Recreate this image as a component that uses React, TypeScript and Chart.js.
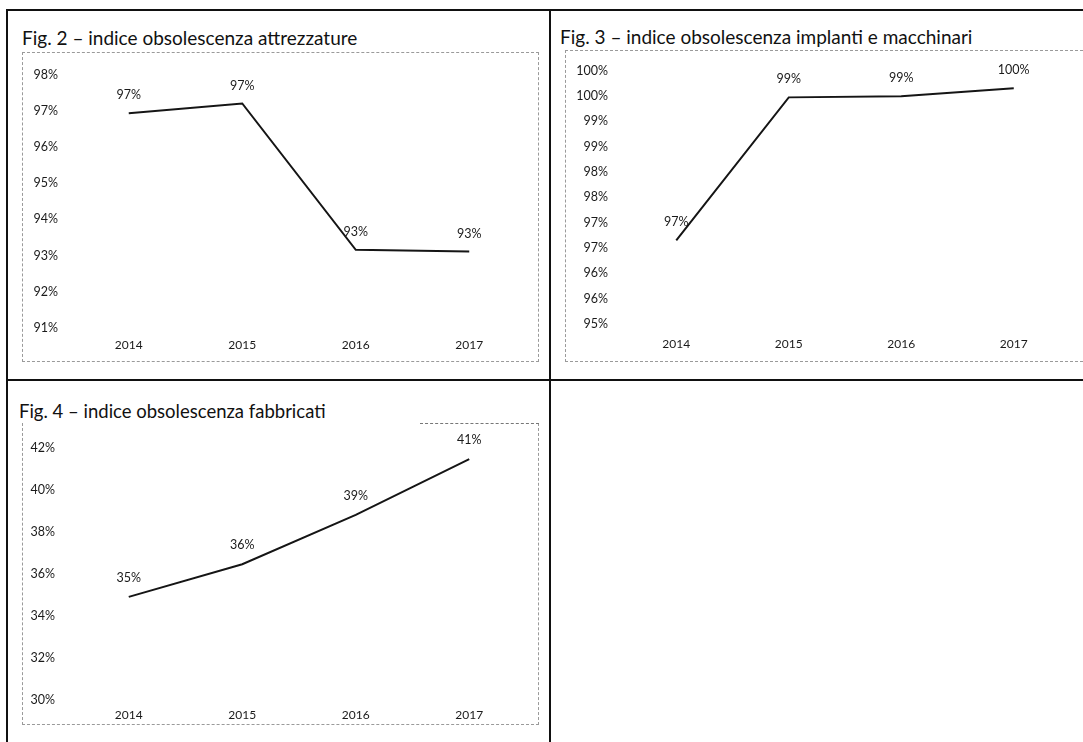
import React, { useEffect, useRef } from "react";
import { Chart, registerables } from "chart.js";

Chart.register(...registerables);

// ---- data ----
const years = ["2014", "2015", "2016", "2017"];
const attrezzature = [96.93, 97.2, 93.16, 93.11];
const impianti = [96.65, 99.47, 99.49, 99.65];
const fabbricati = [34.9, 36.45, 38.8, 41.45];

const fig2Ticks = { min: 91, max: 98, step: 1 };
const fig3Ticks = { min: 95, max: 100, step: 0.5 };
const fig4Ticks = { min: 30, max: 42, step: 2 };

const titles = [
  "Fig. 2 \u2013 indice obsolescenza attrezzature",
  "Fig. 3 \u2013 indice obsolescenza implanti e macchinari",
  "Fig. 4 \u2013 indice obsolescenza fabbricati",
];

const FONT = "Lato, 'Open Sans', sans-serif";

const pctLabels = {
  id: "pctLabels",
  afterDatasetsDraw(chart: any, _args: any, opts: any) {
    const ctx = chart.ctx;
    const meta = chart.getDatasetMeta(0);
    const ds = chart.data.datasets[0];
    ctx.save();
    ctx.font = "12.5px " + FONT;
    ctx.fillStyle = "#1a1a1a";
    ctx.textAlign = "center";
    ctx.textBaseline = "middle";
    meta.data.forEach((pt: any, i: number) => {
      const v = ds.data[i] as number;
      ctx.fillText(Math.round(v) + "%", pt.x, pt.y - (opts.offset || 18));
    });
    ctx.restore();
  },
};

type FigProps = {
  values: number[];
  ticks: { min: number; max: number; step: number };
  left: number;
  top: number;
  width: number;
  height: number;
  yAxisWidth: number;
  yPad: number;
  padTop: number;
  padRight: number;
  xAxisHeight: number;
  xPad: number;
  labelOffset: number;
  border: React.CSSProperties;
};

function LineFig(p: FigProps) {
  const ref = useRef<HTMLCanvasElement | null>(null);
  useEffect(() => {
    if (!ref.current) return;
    const yFont = { family: FONT, size: 12.5 };
    const xFont = { family: FONT, size: 12 };
    const chart = new Chart(ref.current, {
      type: "line",
      data: {
        labels: years,
        datasets: [
          {
            data: p.values,
            borderColor: "#151515",
            borderWidth: 2,
            pointRadius: 0,
            fill: false,
            tension: 0,
          },
        ],
      },
      options: {
        animation: false,
        responsive: false,
        maintainAspectRatio: false,
        layout: { padding: { top: p.padTop, right: p.padRight, left: 0, bottom: 0 } },
        plugins: {
          legend: { display: false },
          tooltip: { enabled: false },
          pctLabels: { offset: p.labelOffset },
        } as any,
        scales: {
          x: {
            type: "category",
            offset: true,
            grid: { display: false, drawTicks: false },
            border: { display: false },
            ticks: { padding: p.xPad, font: xFont, color: "#1a1a1a", maxRotation: 0 },
            afterFit: (s: any) => {
              s.height = p.xAxisHeight;
            },
          },
          y: {
            min: p.ticks.min,
            max: p.ticks.max,
            grid: { display: false, drawTicks: false },
            border: { display: false },
            ticks: {
              stepSize: p.ticks.step,
              padding: p.yPad,
              font: yFont,
              color: "#1a1a1a",
              callback: (v: any) => Math.round(Number(v)) + "%",
            },
            afterFit: (s: any) => {
              s.width = p.yAxisWidth;
            },
          },
        },
      } as any,
      plugins: [pctLabels],
    });
    return () => chart.destroy();
  }, []);
  return (
    <div
      style={{
        position: "absolute",
        left: p.left,
        top: p.top,
        width: p.width,
        height: p.height,
        boxSizing: "border-box",
        ...p.border,
      }}
    >
      <canvas
        ref={ref}
        width={p.width}
        height={p.height}
        style={{ position: "absolute", left: 0, top: 0, width: p.width, height: p.height }}
      />
    </div>
  );
}

const line = (l: number, t: number, w: number, h: number) => (
  <div style={{ position: "absolute", left: l, top: t, width: w, height: h, background: "#111" }} />
);

const titleStyle = (l: number, t: number, size: number): React.CSSProperties => ({
  position: "absolute",
  left: l,
  top: t,
  fontFamily: FONT,
  fontSize: size,
  lineHeight: size + "px",
  color: "#111",
  whiteSpace: "nowrap",
});

export default function App() {
  useEffect(() => {
    document.body.style.margin = "0";
    document.body.style.overflow = "hidden";
  }, []);
  const dotted = "1px dashed #9a9a9a";
  return (
    <div
      style={{
        position: "absolute",
        left: 0,
        top: 0,
        width: 1083,
        height: 742,
        background: "#fff",
        overflow: "hidden",
      }}
    >
      {/* table grid */}
      {line(7, 9, 1076, 2)}
      {line(6, 9, 2, 733)}
      {line(549, 9, 2, 733)}
      {line(6, 379, 1077, 2)}

      <div style={titleStyle(22, 28, 19)}>{titles[0]}</div>
      <div style={titleStyle(560, 27, 19)}>{titles[1]}</div>
      <div style={titleStyle(19, 402, 18.5)}>{titles[2]}</div>

      <LineFig
        values={attrezzature}
        ticks={fig2Ticks}
        left={22}
        top={52}
        width={517}
        height={310}
        yAxisWidth={49}
        yPad={14}
        padTop={20}
        padRight={14}
        xAxisHeight={35}
        xPad={10}
        labelOffset={18}
        border={{ borderTop: dotted, borderLeft: dotted, borderRight: dotted, borderBottom: dotted }}
      />
      <LineFig
        values={impianti}
        ticks={fig3Ticks}
        left={565}
        top={50}
        width={518}
        height={312}
        yAxisWidth={54}
        yPad={12}
        padTop={18}
        padRight={14}
        xAxisHeight={39}
        xPad={13}
        labelOffset={18}
        border={{ borderTop: dotted, borderLeft: dotted, borderBottom: dotted }}
      />
      <LineFig
        values={fabbricati}
        ticks={fig4Ticks}
        left={22}
        top={423}
        width={517}
        height={302}
        yAxisWidth={49}
        yPad={17}
        padTop={17}
        padRight={14}
        xAxisHeight={25}
        xPad={8}
        labelOffset={19}
        border={{ borderLeft: dotted, borderRight: dotted, borderBottom: dotted }}
      />
      <div
        style={{
          position: "absolute",
          left: 420,
          top: 423,
          width: 119,
          height: 0,
          borderTop: "1px dashed #777",
        }}
      />
    </div>
  );
}
